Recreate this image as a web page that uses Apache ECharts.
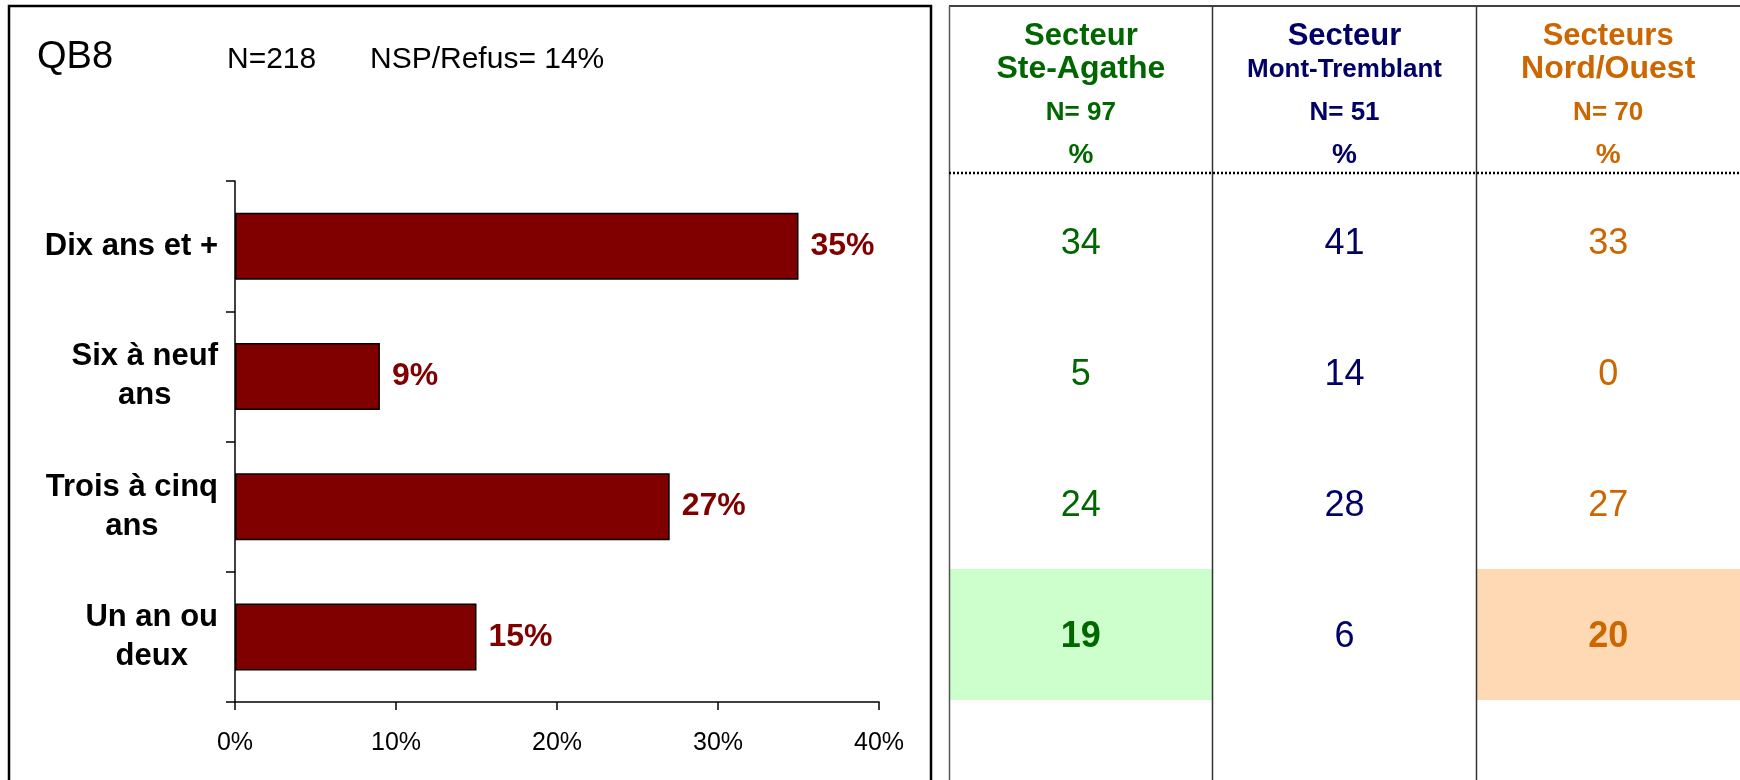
<!DOCTYPE html>
<html><head><meta charset="utf-8">
<script src="https://cdn.jsdelivr.net/npm/echarts@6/dist/echarts.min.js"></script>
<style>html,body{margin:0;padding:0;background:#fff}#c{width:1740px;height:780px}</style>
</head><body><div id="c"></div><script>
// ---- data ----
const categories = ['Dix ans et +', 'Six à neuf\nans', 'Trois à cinq\nans', 'Un an ou\ndeux'];
const totalValues = [35, 9, 27, 15];
const xAxisMin = 0, xAxisMax = 40, xAxisStep = 10;
const titleCode = 'QB8';
const sampleText = 'N=218';
const nspText = 'NSP/Refus= 14%';
const sectorLine1 = ['Secteur', 'Secteur', 'Secteurs'];
const sectorLine2 = ['Ste-Agathe', 'Mont-Tremblant', 'Nord/Ouest'];
const sectorN = [97, 51, 70];
const steAgathe = [34, 5, 24, 19];
const montTremblant = [41, 14, 28, 6];
const nordOuest = [33, 0, 27, 20];
const highlighted = [[0, 3], [2, 3]]; // [column, row]

// ---- styles ----
const FONT = "'Liberation Sans', Arial, Helvetica, sans-serif";
const sectorColors = ['#006600', '#000066', '#CC6600'];
const sectorBg = ['#CCFFCC', '#DDDDFF', '#FFD9B3'];
const barColor = '#800000';

const sectors = [steAgathe, montTremblant, nordOuest];
const isHl = (c, r) => highlighted.some(h => h[0] === c && h[1] === r);

const headerRich = {};
sectorColors.forEach((col, i) => {
  headerRich['a' + i] = {fontSize: 31, fontWeight: 'bold', color: col, lineHeight: 25, fontFamily: FONT};
  headerRich['b' + i] = {fontSize: i === 1 ? 26 : 32, fontWeight: 'bold', color: col, lineHeight: 41, fontFamily: FONT};
  headerRich['n' + i] = {fontSize: 26, fontWeight: 'bold', color: col, lineHeight: 45, fontFamily: FONT};
  headerRich['p' + i] = {fontSize: 28, fontWeight: 'bold', color: col, lineHeight: 41, fontFamily: FONT};
});

const valueSeries = sectors.map((arr, c) => ({
  type: 'scatter',
  xAxisIndex: 1, yAxisIndex: 1,
  symbolSize: 2,
  itemStyle: {color: 'rgba(0,0,0,0)', opacity: 1},
  silent: true,
  z: 5,
  data: arr.map((v, r) => {
    const item = {value: [c, r, v]};
    if (isHl(c, r)) item.label = {fontWeight: 'bold'};
    return item;
  }),
  label: {
    show: true, position: 'inside', offset: [0, 3],
    formatter: p => String(p.value[2]),
    fontSize: 36, color: sectorColors[c], fontFamily: FONT
  }
}));

const chart = echarts.init(document.getElementById('c'), null, {renderer: 'canvas'});
chart.setOption({
  animation: false,
  backgroundColor: '#fff',
  textStyle: {fontFamily: FONT},
  title: [
    {text: titleCode, left: 37, top: 39, padding: 0, textStyle: {fontSize: 38, fontWeight: 'normal', color: '#000', fontFamily: FONT}},
    {text: sampleText, left: 227, top: 45, padding: 0, textStyle: {fontSize: 30, fontWeight: 'normal', color: '#000', fontFamily: FONT}},
    {text: nspText, left: 370, top: 45, padding: 0, textStyle: {fontSize: 30, fontWeight: 'normal', color: '#000', fontFamily: FONT}}
  ],
  grid: [
    {left: 235, top: 181, width: 644, height: 521},
    {left: 949, right: 0, top: 176, height: 524}
  ],
  xAxis: [
    {
      type: 'value', gridIndex: 0, min: xAxisMin, max: xAxisMax, interval: xAxisStep,
      axisLine: {show: true, lineStyle: {color: '#000', width: 1.5}},
      axisTick: {show: true, length: 8, lineStyle: {color: '#000', width: 1.5}},
      axisLabel: {formatter: '{value}%', fontSize: 25, color: '#000', margin: 29, fontFamily: FONT},
      splitLine: {show: false}
    },
    {
      type: 'category', gridIndex: 1, position: 'top', data: sectorLine2,
      axisLine: {show: false}, axisTick: {show: false}, splitLine: {show: false},
      axisLabel: {
        interval: 0, margin: 0,
        formatter: (v, i) => `{a${i}|${sectorLine1[i]}}\n{b${i}|${sectorLine2[i]}}\n{n${i}|N= ${sectorN[i]}}\n{p${i}|%}`,
        rich: headerRich
      }
    }
  ],
  yAxis: [
    {
      type: 'category', gridIndex: 0, data: categories, inverse: true,
      axisLine: {show: true, lineStyle: {color: '#000', width: 1.5}},
      axisTick: {show: true, length: 9, lineStyle: {color: '#000', width: 1.5}},
      axisLabel: {
        interval: 0, margin: 17,
        formatter: v => v.split('\n').map(l => `{c|${l}}`).join('\n'),
        rich: {c: {align: 'center', fontSize: 31, fontWeight: 'bold', color: '#000', lineHeight: 39, fontFamily: FONT}}
      },
      splitLine: {show: false}
    },
    {type: 'category', gridIndex: 1, data: categories, inverse: true, show: false}
  ],
  series: [
    {
      type: 'bar', xAxisIndex: 0, yAxisIndex: 0, data: totalValues, barWidth: 67,
      itemStyle: {color: barColor, borderColor: '#000', borderWidth: 1.5},
      label: {show: true, position: 'right', distance: 12, formatter: '{c}%', fontSize: 32, fontWeight: 'bold', color: barColor, fontFamily: FONT}
    },
    {
      type: 'custom', xAxisIndex: 1, yAxisIndex: 1, silent: true, z: 1,
      data: highlighted,
      encode: {x: 0, y: 1},
      renderItem: (params, api) => {
        const c = api.value(0), r = api.value(1);
        const p = api.coord([c, r]);
        const s = api.size([1, 1]);
        return {type: 'rect', shape: {x: p[0] - s[0] / 2, y: p[1] - s[1] / 2, width: s[0], height: s[1]}, style: {fill: sectorBg[c]}};
      }
    }
  ].concat(valueSeries),
  graphic: [
    {type: 'rect', silent: true, z: 10, shape: {x: 9, y: 6, width: 922, height: 820}, style: {fill: 'none', stroke: '#000', lineWidth: 2.5}},
    {type: 'line', silent: true, z: 10, shape: {x1: 949, y1: 6, x2: 1740, y2: 6}, style: {stroke: '#000', lineWidth: 1.5}},
    {type: 'line', silent: true, z: 10, shape: {x1: 949.5, y1: 6, x2: 949.5, y2: 780}, style: {stroke: '#555', lineWidth: 1.5}},
    {type: 'line', silent: true, z: 10, shape: {x1: 1212.5, y1: 6, x2: 1212.5, y2: 780}, style: {stroke: '#333', lineWidth: 1.5}},
    {type: 'line', silent: true, z: 10, shape: {x1: 1476.5, y1: 6, x2: 1476.5, y2: 780}, style: {stroke: '#333', lineWidth: 1.5}},
    {type: 'line', silent: true, z: 11, shape: {x1: 949, y1: 173, x2: 1740, y2: 173}, style: {stroke: '#000', lineWidth: 2.5, lineDash: [2, 2]}}
  ]
});
</script></body></html>
